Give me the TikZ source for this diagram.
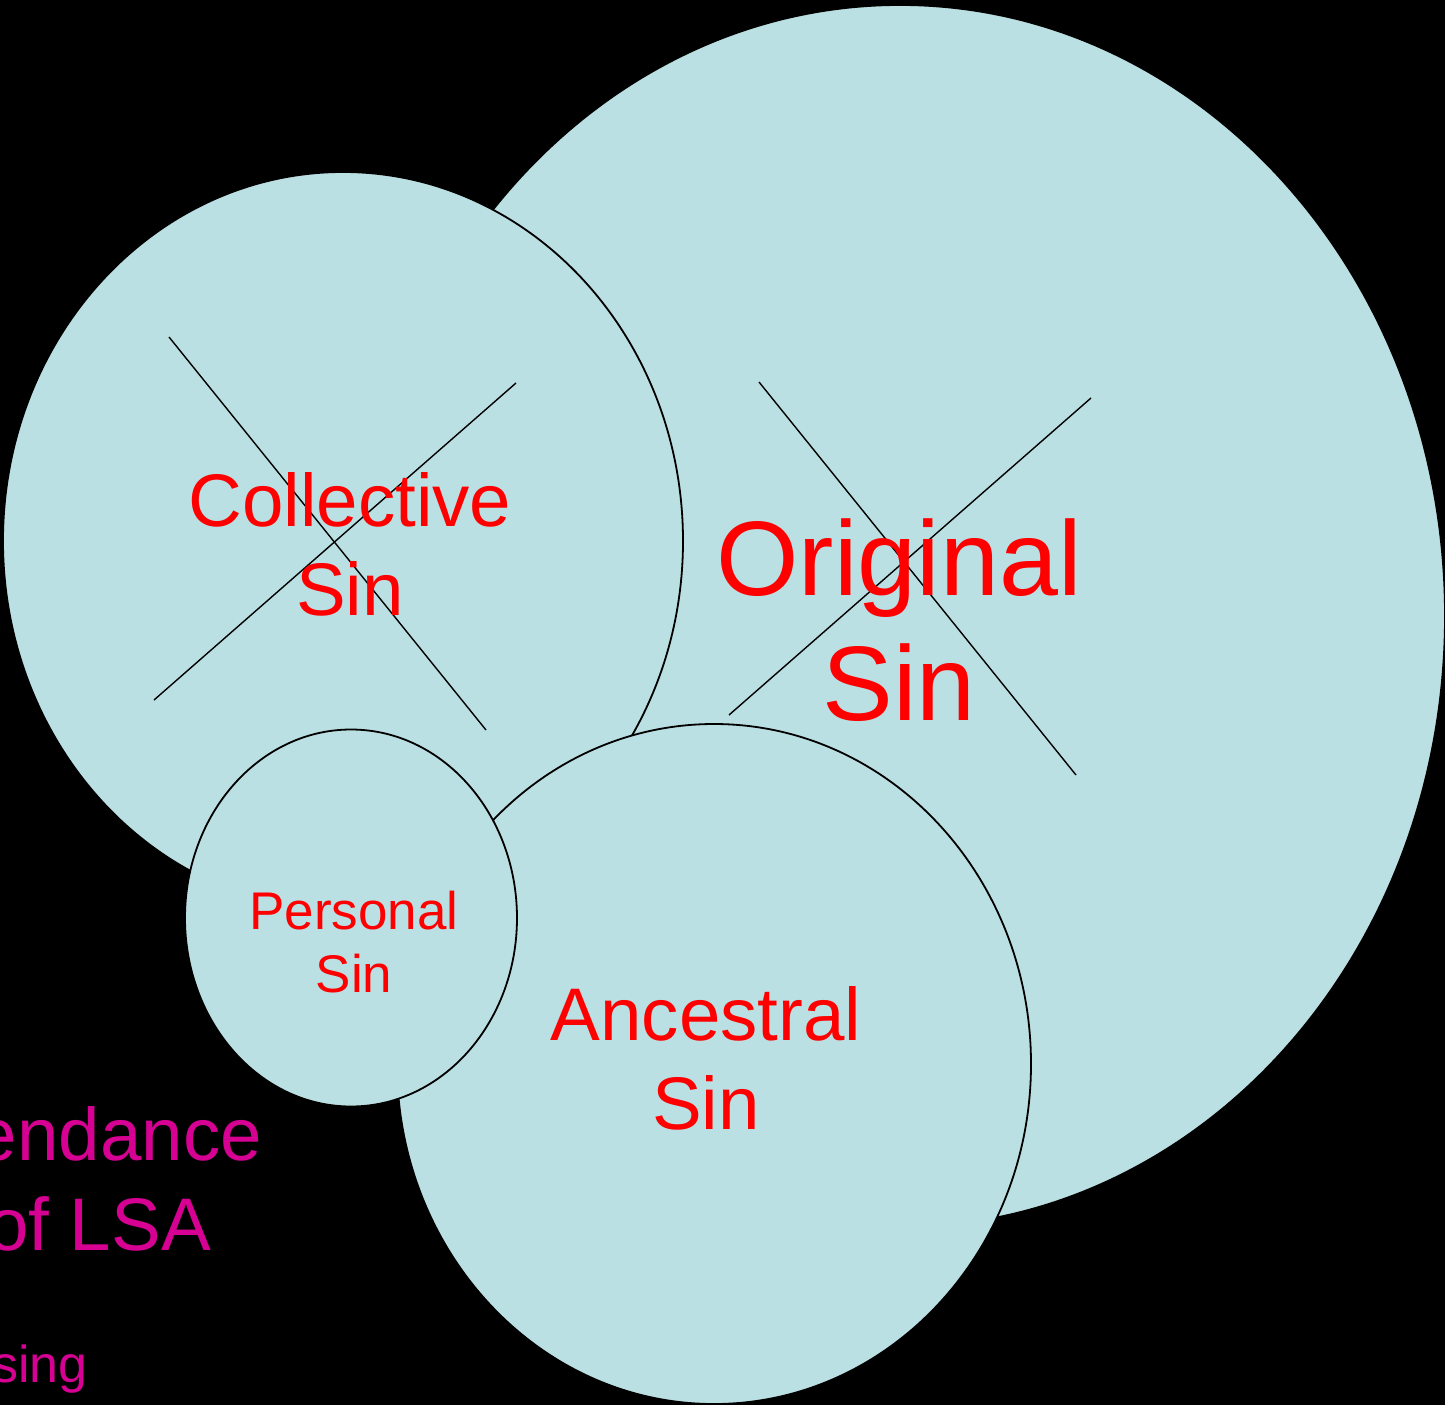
\documentclass[tikz,border=0pt]{standalone}
\usepackage{fontspec}
\setmainfont{Liberation Sans}
\usetikzlibrary{shapes.geometric}
\definecolor{blobfill}{HTML}{BBE0E3}
\definecolor{sinred}{HTML}{FF0000}
\definecolor{lsamag}{HTML}{D60093}
\tikzset{
  blob/.style={ellipse, draw=black, fill=blobfill, line width=1.8pt, inner sep=0pt, outer sep=0pt},
  crossline/.style={draw=black, line width=1.4pt},
  sintext/.style={text=sinred, inner sep=0pt, anchor=base},
  lsatext/.style={text=lsamag, inner sep=0pt, anchor=base east}
}
\begin{document}
\begin{tikzpicture}[x=1pt,y=-1pt]
\fill[black] (0,0) rectangle (1445,1405);
\useasboundingbox (0,0) rectangle (1445,1405);
\clip (0,0) rectangle (1445,1405);
% Original Sin
\node[blob, minimum width=1090pt, minimum height=1222pt] (orig) at (900,616) {};
\coordinate (oa1) at (759,382); \coordinate (oa2) at (1076,775);
\coordinate (ob1) at (1091,398); \coordinate (ob2) at (729,715);
\draw[crossline] (oa1) -- (oa2);
\draw[crossline] (ob1) -- (ob2);
% Collective Sin
\node[blob, minimum width=680pt, minimum height=738pt] (coll) at (343,541) {};
\coordinate (ca1) at (169,337); \coordinate (ca2) at (486,730);
\coordinate (cb1) at (516,383); \coordinate (cb2) at (154,700);
\draw[crossline] (ca1) -- (ca2);
\draw[crossline] (cb1) -- (cb2);
% Ancestral Sin
\node[blob, minimum width=634pt, minimum height=680pt] (anc) at (714,1064) {};
% Personal Sin
\node[blob, minimum width=332pt, minimum height=377pt] (pers) at (351,918) {};
% texts
\node[sintext, font=\fontsize{74.5}{89}\selectfont] (colt1) at (350,526) {Collective};
\node[sintext, font=\fontsize{74.5}{89}\selectfont] (colt2) at (350,615) {Sin};
\node[sintext, font=\fontsize{106}{127}\selectfont] (ort1) at (899,595) {Original};
\node[sintext, font=\fontsize{106}{127}\selectfont] (ort2) at (899,720) {Sin};
\node[sintext, font=\fontsize{53}{64}\selectfont] (pet1) at (354,929) {Personal};
\node[sintext, font=\fontsize{53}{64}\selectfont] (pet2) at (354,992) {Sin};
\node[sintext, font=\fontsize{74.5}{89}\selectfont] (ant1) at (706,1040) {Ancestral};
\node[sintext, font=\fontsize{74.5}{89}\selectfont] (ant2) at (706,1129) {Sin};
\node[lsatext, font=\fontsize{74.5}{89}\selectfont] (lsa1) at (262,1160) {endance};
\node[lsatext, font=\fontsize{74.5}{89}\selectfont] (lsa2) at (211,1250) {of LSA};
\node[lsatext, font=\fontsize{52}{62}\selectfont] (lsa3) at (88,1382) {sing};
\end{tikzpicture}
\end{document}
